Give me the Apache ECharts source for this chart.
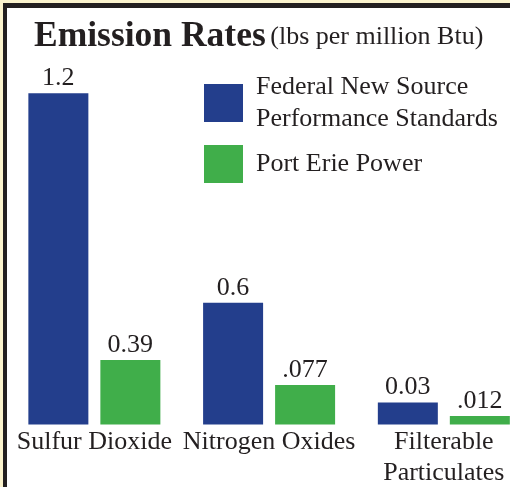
<!DOCTYPE html>
<html>
<head>
<meta charset="utf-8">
<script src="https://cdn.jsdelivr.net/npm/echarts@6/dist/echarts.min.js"></script>
<style>
  html, body { margin: 0; padding: 0; background: #fff; }
  #chart { width: 510px; height: 487px; }
</style>
</head>
<body>
<div id="chart"></div>
<script>
// categories on the x axis
const categories = ["Sulfur Dioxide", "Nitrogen Oxides", "Filterable\nParticulates"];
const seriesNames = ["Federal New Source\nPerformance Standards", "Port Erie Power"];

// bar heights as drawn in the picture (the graphic is not to scale),
// measured in units of the tallest bar (1.2)
const federalHeights = [1.2, 0.441, 0.080];
const portErieHeights = [0.234, 0.143, 0.031];

// values printed above the bars
const federalLabels = ["1.2", "0.6", "0.03"];
const portErieLabels = ["0.39", ".077", ".012"];

const textColor = "#231f20";
const serif = "Liberation Serif";

let myChart = echarts.init(document.getElementById("chart"));

function valueLabel(labels) {
  return {
    show: true,
    position: "top",
    distance: 2,
    color: textColor,
    fontFamily: serif,
    fontSize: 26,
    formatter: function (p) {
      return labels[p.dataIndex];
    },
  };
}

myChart.setOption({
  backgroundColor: "#ffffff",
  animation: false,
  graphic: [
    { type: "rect", shape: { x: 0, y: 0, width: 510, height: 3 }, style: { fill: "#fbf3cd" }, z: 0 },
    { type: "rect", shape: { x: 0, y: 0, width: 3, height: 487 }, style: { fill: "#fbf3cd" }, z: 0 },
    { type: "rect", shape: { x: 3, y: 3, width: 507, height: 5 }, style: { fill: textColor }, z: 0 },
    { type: "rect", shape: { x: 3, y: 3, width: 4, height: 484 }, style: { fill: textColor }, z: 0 },
  ],
  title: {
    text: "{b|Emission Rates} {r|(lbs per million Btu)}",
    left: 29,
    top: 14,
    textStyle: {
      fontFamily: serif,
      rich: {
        b: { fontFamily: serif, fontWeight: "bold", fontSize: 35.5, color: textColor },
        r: { fontFamily: serif, fontWeight: "normal", fontSize: 26, color: textColor },
      },
    },
  },
  legend: {
    orient: "vertical",
    left: 204,
    top: 71,
    padding: 0,
    itemWidth: 39,
    itemHeight: 38,
    itemGap: 10,
    icon: "rect",
    data: seriesNames,
    textStyle: {
      color: textColor,
      fontFamily: serif,
      fontSize: 26,
      lineHeight: 32,
      padding: [0, 0, 0, 8],
    },
  },
  grid: {
    left: 7,
    width: 524.2,
    top: 93.3,
    bottom: 62.5,
    outerBoundsMode: "none",
  },
  xAxis: {
    type: "category",
    data: categories,
    axisLine: { show: false },
    axisTick: { show: false },
    axisLabel: {
      color: textColor,
      fontFamily: serif,
      fontSize: 26,
      lineHeight: 31,
      margin: 2,
      interval: 0,
    },
  },
  yAxis: {
    type: "value",
    min: 0,
    max: 1.2,
    show: false,
    splitLine: { show: false },
  },
  series: [
    {
      name: seriesNames[0],
      type: "bar",
      data: federalHeights,
      barWidth: 60,
      barGap: "20%",
      itemStyle: { color: "#233e8c" },
      label: valueLabel(federalLabels),
    },
    {
      name: seriesNames[1],
      type: "bar",
      data: portErieHeights,
      barWidth: 60,
      itemStyle: { color: "#40ae4a" },
      label: valueLabel(portErieLabels),
    },
  ],
});
</script>
</body>
</html>
